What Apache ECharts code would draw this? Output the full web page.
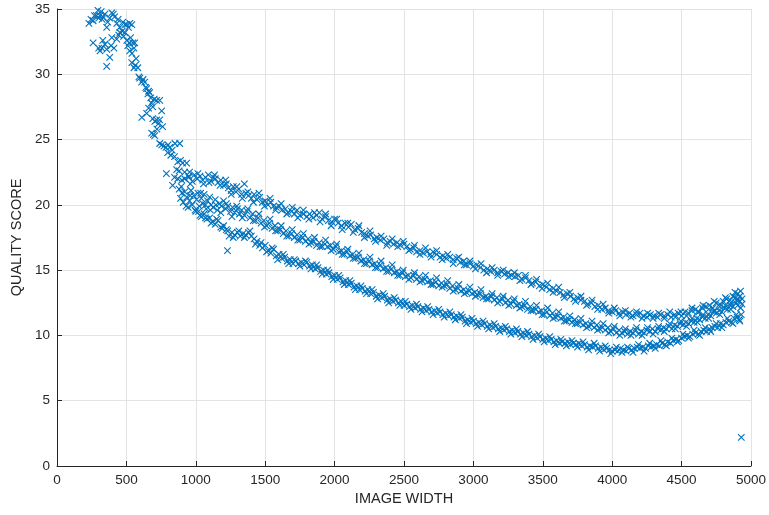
<!DOCTYPE html>
<html>
<head>
<meta charset="utf-8">
<script src="https://cdn.jsdelivr.net/npm/echarts@6/dist/echarts.min.js"></script>
<style>
html,body{margin:0;padding:0;background:#fff;}
#chart{width:769px;height:515px;}
</style>
</head>
<body>
<div id="chart"></div>
<script>
// Axis ticks
const xTicks = [0, 500, 1000, 1500, 2000, 2500, 3000, 3500, 4000, 4500, 5000];
const yTicks = [0, 5, 10, 15, 20, 25, 30, 35];

// Early noisy cluster (small widths)
const earlyBand = [
[230,33.9],[245,34.2],[260,34.1],[270,34.5],[285,34.5],[295,34.9],[300,34.3],[309,34.5],[318,34.8],[325,34.2],
[332,34.4],[345,34.6],[358,33.6],[365,34.0],[380,34.3],[395,34.7],[405,34.6],[415,34.4],[431,33.9],[440,34.2],
[452,33.6],[467,35.1],[475,34.0],[490,33.8],[503,33.8],[515,33.6],[525,33.9],[539,33.8],
[260,32.4],[300,32.0],[310,31.8],[323,32.0],[330,32.6],[345,32.3],[358,31.9],[358,30.6],[380,31.3],[390,32.2],
[395,32.8],[410,32.0],[430,32.7],[445,33.0],[453,33.2],[470,33.3],[480,32.9],[490,33.2],[503,32.6],[510,32.2],
[520,32.4],[530,32.8],[546,32.4],[524,31.8],[540,31.6],[555,32.0],[560,32.4],
[539,30.9],[555,30.5],[565,30.7],[582,30.5],[570,31.2],[590,29.8],[596,29.7],[610,29.4],[620,29.6],[632,29.4],
[640,29.0],[646,28.9],[655,28.5],[660,28.7],[668,28.6],[675,28.2],[690,27.5],[700,28.1],[718,28.0],[740,28.0],
[611,26.7],[646,27.0],[660,27.4],[680,27.8],[690,26.6],[705,26.4],[718,26.5],[730,26.2],[740,26.5],[754,27.2],
[761,26.0],[682,25.5],[695,25.4],[704,25.3],[720,25.8],[740,24.7],[755,24.6],[770,24.5],[785,24.4],[800,24.6],
[812,24.4],[830,24.2],[850,24.7],[884,24.7],[797,24.0],[820,23.8],[847,23.7],[870,23.3],[890,23.4],[905,23.2],
[934,23.2],[788,22.4],[862,22.7],[880,22.6],[920,22.5],[955,22.5],[847,22.1],[870,22.0],[900,21.9],[920,22.0],
[833,21.5],[950,22.2],[960,21.6],[1228,16.5]
];

// Upper strand
const upperBand = [
[950,22.1],[975,21.8],[990,22.3],[1010,22.0],[1030,22.2],[1050,21.9],[1070,22.1],[1090,22.3],[1110,21.8],[1125,22.1],
[1140,22.0],[1160,21.7],[1180,21.9],[1200,21.5],[1220,21.6],[1235,21.3],[1255,21.1],[1270,21.4],[1290,21.0],[1310,21.2],
[1330,20.8],[1350,21.6],[1360,20.9],[1380,20.7],[1400,20.5],[1420,20.8],[1440,20.4],[1460,20.6],[1480,20.2],[1500,20.3],
[1520,20.0],[1540,20.2],[1560,19.9],[1580,19.8],[1600,19.9],[1620,19.6],[1645,19.7],[1665,19.4],[1690,19.5],[1710,19.3],
[1730,19.6],[1750,19.2],[1775,19.3],[1800,19.1],[1820,19.3],[1845,19.0],[1870,19.2],[1890,19.4],[1910,18.9],[1935,19.1],
[1955,18.8],[1980,18.7],[2000,18.9],[2025,18.6],[2050,18.4],[2075,18.6],[2100,18.3],[2120,18.5],[2145,18.1],[2170,18.2],
[2195,17.9],[2215,17.8],[2240,17.6],[2260,17.7],[2285,17.4],[2305,17.5],[2330,17.3],[2355,17.4],[2380,17.1],[2400,17.2],
[2425,17.0],[2450,17.1],[2475,16.9],[2500,17.0],[2520,16.8],[2545,16.6],[2570,16.7],[2590,16.4],[2615,16.5],[2640,16.3],
[2665,16.4],[2690,16.2],[2710,16.4],[2735,16.2],[2760,16.0],[2780,16.1],[2805,15.9],[2830,16.0],[2855,15.8],[2880,15.9],
[2905,15.6],[2930,15.7],[2950,15.4],[2975,15.5],[3000,15.3],[3025,15.4],[3050,15.2],[3075,15.0],[3100,15.1],[3125,14.9],
[3150,15.0],[3175,14.8],[3200,14.9],[3225,14.7],[3250,14.8],[3275,14.6],[3300,14.5],[3325,14.6],[3350,14.3],[3375,14.4],
[3400,14.2],[3425,14.0],[3450,14.1],[3475,13.8],[3500,13.9],[3525,13.7],[3550,13.5],[3575,13.6],[3600,13.4],[3625,13.3],
[3650,13.1],[3675,13.2],[3700,13.0],[3725,12.8],[3750,12.9],[3775,12.7],[3800,12.6],[3825,12.4],[3850,12.5],[3875,12.2],
[3900,12.3],[3925,12.0],[3950,12.1],[3975,11.9],[4000,11.8],[4025,11.9],[4050,11.7],[4075,11.8],[4100,11.6],[4125,11.7],
[4150,11.5],[4175,11.6],[4200,11.7],[4225,11.5],[4250,11.4],[4275,11.6],[4300,11.5],[4325,11.4],[4350,11.6],[4375,11.5],
[4400,11.6],[4425,11.4],[4450,11.6],[4475,11.7],[4500,11.5],[4525,11.8],[4550,11.7],[4575,11.9],[4600,12.0],[4625,11.8],
[4650,12.1],[4675,12.2],[4700,12.3],[4725,12.1],[4750,12.5],[4775,12.4],[4800,12.6],[4825,12.8],[4850,12.7],[4870,13.0],
[4890,12.9],[4905,13.2],[4920,13.0],[4935,12.8]
];
const upperSpread = [
[1015,22.4],[1055,21.6],[1095,21.7],[1135,22.3],[1175,21.5],[1215,21.9],[1255,20.8],[1295,21.4],[1335,20.5],[1375,21.0],
[1415,20.2],[1455,20.9],[1495,19.9],[1535,20.5],[1575,19.6],[1615,20.1],[1655,19.3],[1695,19.8],[1735,19.0],[1775,19.6],
[1815,18.9],[1855,19.4],[1895,18.7],[1935,19.3],[1975,18.4],[2015,18.9],[2055,18.1],[2095,18.6],[2135,17.9],[2175,18.4],
[2215,17.5],[2255,18.0],[2295,17.2],[2335,17.6],[2375,16.9],[2415,17.4],[2455,16.8],[2495,17.2],[2535,16.5],[2575,16.9],
[2615,16.2],[2655,16.7],[2695,16.0],[2735,16.5],[2775,15.8],[2815,16.2],[2855,15.5],[2895,16.0],[2935,15.4],[2975,15.7],
[3015,15.1],[3055,15.5],[3095,14.8],[3135,15.2],[3175,14.6],[3215,15.0],[3255,14.5],[3295,14.8],[3335,14.2],[3375,14.6],
[3415,13.9],[3455,14.3],[3495,13.6],[3535,14.0],[3575,13.3],[3615,13.7],[3655,12.9],[3695,13.3],[3735,12.6],[3775,13.0],
[3815,12.3],[3855,12.7],[3895,12.0],[3935,12.4],[3975,11.7],[4015,12.1],[4055,11.5],[4095,11.9],[4135,11.4],[4175,11.8],
[4215,11.3],[4255,11.7],[4295,11.3],[4335,11.7],[4375,11.3],[4415,11.8],[4455,11.4],[4495,11.8],[4535,11.5],[4575,12.1],
[4615,11.8],[4655,12.3],[4695,12.0],[4735,12.6],[4775,12.2],[4815,12.9],[4855,12.5],[4885,13.3],[4910,12.7],[4925,13.4]
];

// Middle strand
const middleBand = [
[880,21.2],[890,20.5],[900,20.9],[910,20.2],[920,21.0],[935,20.6],[945,19.8],[955,20.3],[965,21.1],[975,20.0],
[985,20.7],[995,19.6],[1005,20.4],[1015,20.9],[1025,19.9],[1040,20.5],[1050,20.1],[1060,20.8],[1075,19.7],[1085,20.3],
[1100,20.6],[1110,20.0],[1125,19.8],[1140,20.4],[1155,19.6],[1170,20.1],[1185,19.9],[1200,20.3],[1215,19.7],[1230,19.9],
[1250,19.5],[1265,19.8],[1280,19.4],[1300,19.7],[1315,19.3],[1330,19.6],[1350,19.2],[1370,19.5],[1390,19.0],[1410,19.3],
[1430,18.8],[1450,19.0],[1470,18.6],[1490,18.8],[1510,18.4],[1530,18.6],[1550,18.2],[1570,18.4],[1590,18.0],[1610,18.1],
[1630,17.8],[1650,18.0],[1670,17.6],[1690,17.8],[1710,17.5],[1730,17.7],[1750,17.3],[1770,17.5],[1790,17.2],[1810,17.4],
[1830,17.1],[1850,17.2],[1870,16.9],[1890,17.1],[1910,16.8],[1930,17.0],[1950,16.8],[1970,16.9],[1990,16.6],[2010,16.8],
[2030,16.4],[2050,16.5],[2070,16.2],[2090,16.4],[2110,16.1],[2130,16.2],[2150,15.9],[2170,16.0],[2190,15.7],[2210,15.8],
[2230,15.5],[2250,15.7],[2270,15.4],[2290,15.5],[2310,15.2],[2330,15.4],[2350,15.1],[2370,15.2],[2390,14.9],[2410,15.1],
[2430,14.8],[2450,14.9],[2470,14.6],[2490,14.8],[2510,14.5],[2530,14.6],[2550,14.4],[2570,14.6],[2590,14.3],[2610,14.5],
[2630,14.2],[2650,14.3],[2670,14.1],[2690,14.2],[2710,13.9],[2730,14.1],[2750,13.8],[2770,14.0],[2790,13.8],[2810,13.9],
[2830,13.6],[2850,13.8],[2870,13.5],[2890,13.6],[2910,13.4],[2930,13.5],[2950,13.3],[2970,13.4],[2990,13.2],[3010,13.3],
[3030,13.1],[3050,13.2],[3070,12.9],[3090,13.0],[3110,12.8],[3130,13.0],[3150,12.7],[3170,12.9],[3190,12.6],[3210,12.8],
[3230,12.5],[3250,12.7],[3270,12.4],[3290,12.6],[3310,12.3],[3330,12.4],[3350,12.2],[3370,12.3],[3390,12.0],[3410,12.2],
[3430,11.9],[3450,12.0],[3470,11.8],[3490,11.9],[3510,11.6],[3530,11.8],[3550,11.5],[3570,11.7],[3590,11.4],[3610,11.5],
[3630,11.3],[3650,11.4],[3670,11.1],[3690,11.2],[3710,11.0],[3730,11.2],[3750,10.9],[3770,11.0],[3790,10.8],[3810,10.9],
[3830,10.7],[3850,10.8],[3870,10.6],[3890,10.8],[3910,10.5],[3930,10.6],[3950,10.4],[3970,10.6],[3990,10.3],[4010,10.5],
[4030,10.2],[4050,10.4],[4070,10.2],[4090,10.3],[4110,10.1],[4130,10.3],[4150,10.2],[4170,10.4],[4190,10.1],[4210,10.3],
[4230,10.2],[4250,10.4],[4270,10.3],[4290,10.5],[4310,10.3],[4330,10.5],[4350,10.4],[4370,10.6],[4390,10.5],[4410,10.7],
[4430,10.5],[4450,10.8],[4470,10.7],[4490,10.9],[4510,10.8],[4530,11.0],[4550,10.9],[4570,11.1],[4590,11.0],[4610,11.3],
[4630,11.2],[4650,11.4],[4670,11.3],[4690,11.6],[4710,11.5],[4730,11.8],[4750,11.7],[4770,11.9],[4790,11.8],[4810,12.1],
[4830,12.0],[4850,12.3],[4870,12.2],[4890,12.5],[4905,12.3],[4920,12.6],[4935,12.4]
];
const middleSpread = [
[895,21.4],[930,19.9],[960,20.7],[1000,19.5],[1035,20.9],[1070,20.0],[1105,19.6],[1145,20.0],[1180,19.4],[1220,20.1],
[1260,19.1],[1295,19.9],[1335,19.0],[1375,19.7],[1415,18.8],[1455,19.3],[1495,18.3],[1535,18.9],[1575,18.0],[1615,18.4],
[1655,17.6],[1695,18.1],[1735,17.3],[1775,17.8],[1815,17.0],[1855,17.5],[1895,16.8],[1935,17.3],[1975,16.5],[2015,17.0],
[2055,16.2],[2095,16.6],[2135,15.9],[2175,16.3],[2215,15.5],[2255,16.0],[2295,15.2],[2335,15.7],[2375,14.9],[2415,15.4],
[2455,14.6],[2495,15.0],[2535,14.3],[2575,14.8],[2615,14.1],[2655,14.6],[2695,13.9],[2735,14.4],[2775,13.7],[2815,14.2],
[2855,13.4],[2895,13.9],[2935,13.2],[2975,13.7],[3015,13.0],[3055,13.5],[3095,12.8],[3135,13.2],[3175,12.5],[3215,13.0],
[3255,12.3],[3295,12.8],[3335,12.1],[3375,12.6],[3415,11.9],[3455,12.3],[3495,11.6],[3535,12.1],[3575,11.3],[3615,11.8],
[3655,11.1],[3695,11.5],[3735,10.9],[3775,11.3],[3815,10.6],[3855,11.1],[3895,10.4],[3935,10.9],[3975,10.2],[4015,10.7],
[4055,10.0],[4095,10.5],[4135,10.0],[4175,10.6],[4215,10.0],[4255,10.6],[4295,10.1],[4335,10.7],[4375,10.3],[4415,10.9],
[4455,10.5],[4495,11.1],[4535,10.7],[4575,11.3],[4615,11.0],[4655,11.6],[4695,11.3],[4735,11.9],[4775,11.6],[4815,12.3],
[4855,12.0],[4895,12.7],[4925,12.1]
];

// Lower strand
const lowerBand = [
[1020,19.5],[1040,19.1],[1060,19.3],[1080,18.9],[1100,19.0],[1120,18.7],[1140,18.5],[1160,18.8],[1180,18.3],[1200,18.4],
[1220,18.1],[1240,17.6],[1260,17.9],[1280,17.7],[1300,17.9],[1320,17.6],[1340,17.8],[1360,17.7],[1380,17.9],[1400,17.6],
[1420,17.4],[1440,17.2],[1460,16.9],[1480,16.7],[1500,16.9],[1520,16.5],[1540,16.3],[1560,16.6],[1580,16.1],[1600,16.2],
[1620,15.9],[1640,16.0],[1660,15.7],[1680,15.8],[1700,15.5],[1720,15.7],[1740,15.5],[1760,15.6],[1780,15.4],[1800,15.6],
[1820,15.3],[1840,15.4],[1860,15.1],[1880,15.2],[1900,14.9],[1920,15.0],[1940,14.7],[1960,14.8],[1980,14.5],[2000,14.6],
[2020,14.3],[2040,14.4],[2060,14.1],[2080,14.2],[2100,13.9],[2120,14.0],[2140,13.7],[2160,13.8],[2180,13.5],[2200,13.6],
[2220,13.4],[2240,13.5],[2260,13.2],[2280,13.3],[2300,13.0],[2320,13.1],[2340,12.9],[2360,13.0],[2380,12.7],[2400,12.8],
[2420,12.6],[2440,12.7],[2460,12.5],[2480,12.6],[2500,12.3],[2520,12.4],[2540,12.2],[2560,12.3],[2580,12.1],[2600,12.2],
[2620,12.0],[2640,12.1],[2660,11.9],[2680,12.0],[2700,11.8],[2720,11.9],[2740,11.7],[2760,11.8],[2780,11.6],[2800,11.7],
[2820,11.5],[2840,11.6],[2860,11.4],[2880,11.5],[2900,11.3],[2920,11.4],[2940,11.1],[2960,11.2],[2980,11.0],[3000,11.1],
[3020,10.9],[3040,11.0],[3060,10.8],[3080,10.9],[3100,10.7],[3120,10.8],[3140,10.6],[3160,10.7],[3180,10.5],[3200,10.6],
[3220,10.4],[3240,10.5],[3260,10.3],[3280,10.4],[3300,10.2],[3320,10.3],[3340,10.1],[3360,10.2],[3380,10.0],[3400,10.1],
[3420,9.9],[3440,10.0],[3460,9.8],[3480,9.9],[3500,9.7],[3520,9.8],[3540,9.6],[3560,9.7],[3580,9.5],[3600,9.6],
[3620,9.4],[3640,9.5],[3660,9.4],[3680,9.5],[3700,9.3],[3720,9.4],[3740,9.3],[3760,9.4],[3780,9.2],[3800,9.3],
[3820,9.1],[3840,9.2],[3860,9.1],[3880,9.2],[3900,9.0],[3920,9.1],[3940,8.9],[3960,9.0],[3980,8.9],[4000,8.8],
[4020,8.9],[4040,8.8],[4060,9.0],[4080,8.9],[4100,8.8],[4120,9.0],[4140,8.9],[4160,9.0],[4180,9.1],[4200,9.0],
[4220,9.1],[4240,9.0],[4260,9.2],[4280,9.1],[4300,9.2],[4320,9.3],[4340,9.2],[4360,9.4],[4380,9.3],[4400,9.5],
[4420,9.4],[4440,9.6],[4460,9.7],[4480,9.6],[4500,9.8],[4520,9.9],[4540,10.0],[4560,9.9],[4580,10.1],[4600,10.2],
[4620,10.1],[4640,10.3],[4660,10.4],[4680,10.3],[4700,10.5],[4720,10.6],[4740,10.7],[4760,10.6],[4780,10.9],[4800,10.8],
[4820,11.0],[4840,11.1],[4860,11.0],[4880,11.3],[4900,11.4],[4915,11.2],[4930,11.6]
];
const lowerSpread = [
[1030,19.2],[1070,19.0],[1110,18.6],[1150,18.9],[1190,18.2],[1230,18.0],[1270,17.5],[1310,18.0],[1350,17.5],[1390,18.0],
[1430,17.0],[1470,17.1],[1510,16.4],[1550,16.7],[1590,15.8],[1630,16.2],[1670,15.5],[1710,15.8],[1750,15.3],[1790,15.7],
[1830,15.1],[1870,15.4],[1910,14.7],[1950,15.0],[1990,14.3],[2030,14.6],[2070,13.9],[2110,14.2],[2150,13.5],[2190,13.8],
[2230,13.2],[2270,13.5],[2310,12.8],[2350,13.2],[2390,12.5],[2430,12.9],[2470,12.3],[2510,12.6],[2550,12.0],[2590,12.4],
[2630,11.8],[2670,12.2],[2710,11.6],[2750,12.0],[2790,11.4],[2830,11.8],[2870,11.2],[2910,11.6],[2950,10.9],[2990,11.3],
[3030,10.7],[3070,11.1],[3110,10.5],[3150,10.9],[3190,10.3],[3230,10.7],[3270,10.1],[3310,10.5],[3350,9.9],[3390,10.3],
[3430,9.7],[3470,10.1],[3510,9.5],[3550,9.9],[3590,9.3],[3630,9.7],[3670,9.2],[3710,9.6],[3750,9.1],[3790,9.5],
[3830,8.9],[3870,9.4],[3910,8.8],[3950,9.2],[3990,8.6],[4030,9.1],[4070,8.7],[4110,9.1],[4150,8.7],[4190,9.3],
[4230,8.8],[4270,9.4],[4310,9.0],[4350,9.6],[4390,9.2],[4430,9.8],[4470,9.5],[4510,10.1],[4550,9.8],[4590,10.4],
[4630,10.0],[4670,10.6],[4710,10.3],[4750,10.9],[4790,10.6],[4830,11.3],[4870,10.9],[4895,11.6],[4920,11.1]
];

// Lone outlier
const outliers = [[4930,2.2]];

const allPoints = earlyBand.concat(upperBand, upperSpread, middleBand, middleSpread, lowerBand, lowerSpread, outliers);

const chart = echarts.init(document.getElementById('chart'), null, {renderer:'canvas'});
const axisColor = '#262626';
const gridColor = '#e3e3e3';
const font = '"Liberation Sans", Arial, Helvetica, sans-serif';

chart.setOption({
  animation: false,
  backgroundColor: '#ffffff',
  grid: {left: 57, right: 16, top: 9, bottom: 49, containLabel: false},
  xAxis: {
    type: 'value',
    min: xTicks[0], max: xTicks[xTicks.length-1], interval: xTicks[1]-xTicks[0],
    name: 'IMAGE WIDTH', nameLocation: 'middle', nameGap: 24,
    nameTextStyle: {color: axisColor, fontSize: 14.5, fontFamily: font},
    axisLine: {show: true, onZero: false, lineStyle: {color: axisColor, width: 1}},
    axisTick: {show: true, inside: true, length: 5, lineStyle: {color: axisColor}},
    axisLabel: {color: axisColor, fontSize: 13.5, fontFamily: font, margin: 7, formatter: v => String(v)},
    splitLine: {show: true, lineStyle: {color: gridColor, width: 1}}
  },
  yAxis: {
    type: 'value',
    min: yTicks[0], max: yTicks[yTicks.length-1], interval: yTicks[1]-yTicks[0],
    name: 'QUALITY SCORE', nameLocation: 'middle', nameGap: 27, nameRotate: 90,
    nameTextStyle: {color: axisColor, fontSize: 14.5, fontFamily: font},
    axisLine: {show: true, onZero: false, lineStyle: {color: axisColor, width: 1}},
    axisTick: {show: true, inside: true, length: 5, lineStyle: {color: axisColor}},
    axisLabel: {color: axisColor, fontSize: 13.5, fontFamily: font, margin: 7, formatter: v => String(v)},
    splitLine: {show: true, lineStyle: {color: gridColor, width: 1}}
  },
  series: [{
    type: 'scatter',
    data: allPoints,
    symbol: 'path://M0,0L10,10M10,0L0,10',
    symbolSize: 6.5,
    itemStyle: {color: 'rgba(0,0,0,0)', borderColor: '#0072BD', borderWidth: 1.1, opacity: 1}
  }]
});
</script>
</body>
</html>
